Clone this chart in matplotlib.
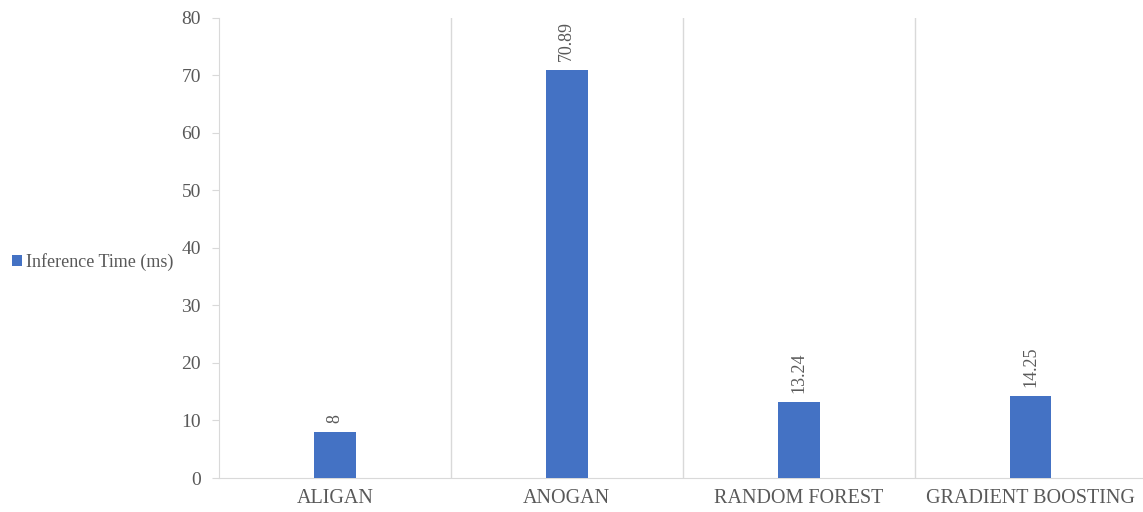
import matplotlib.pyplot as plt
import numpy as np

# data
models = ['ALIGAN', 'ANOGAN', 'RANDOM FOREST', 'GRADIENT BOOSTING']
inference_ms = [8, 70.89, 13.24, 14.25]
value_labels = ['8', '70.89', '13.24', '14.25']
yticks = [0, 10, 20, 30, 40, 50, 60, 70, 80]

plt.rcParams['font.family'] = ['Liberation Serif', 'DejaVu Serif']

bar_color = '#4472C4'
text_color = '#595959'
line_color = '#D9D9D9'

fig = plt.figure(figsize=(11.43, 5.12), dpi=100)
ax = fig.add_axes([0.1916, 0.0664, 0.8084, 0.8985])

x = np.arange(len(models))
bars = ax.bar(x, inference_ms, width=0.18, color=bar_color, label='Inference Time (ms)', zorder=3)

# data labels, rotated like the original
for xi, v, lab in zip(x, inference_ms, value_labels):
    ax.text(xi, v + 1.6, lab, rotation=90, ha='center', va='bottom',
            fontsize=13, color=text_color)

# vertical separators between categories
for b in np.arange(0.5, len(models) - 0.5, 1):
    ax.axvline(b, color=line_color, lw=1.0, zorder=1)

ax.set_xlim(-0.5, 3.485)
ax.set_ylim(0, 80)
ax.set_yticks(yticks)
ax.set_xticks(x)
ax.set_xticklabels(models)

for s in ['top', 'right']:
    ax.spines[s].set_visible(False)
ax.spines['left'].set_color(line_color)
ax.spines['bottom'].set_color(line_color)
ax.tick_params(axis='y', colors=line_color, labelcolor=text_color, labelsize=14, length=5, pad=8)
ax.tick_params(axis='x', length=0, labelcolor=text_color, labelsize=14.5, pad=8)

fig.legend(handles=[bars], labels=['Inference Time (ms)'], loc='center left',
           bbox_to_anchor=(0.007, 0.488), frameon=False, fontsize=13,
           borderaxespad=0, borderpad=0.2,
           handlelength=0.6, handleheight=0.6, handletextpad=0.2, labelcolor=text_color)

fig.savefig('out.png', dpi=100)
